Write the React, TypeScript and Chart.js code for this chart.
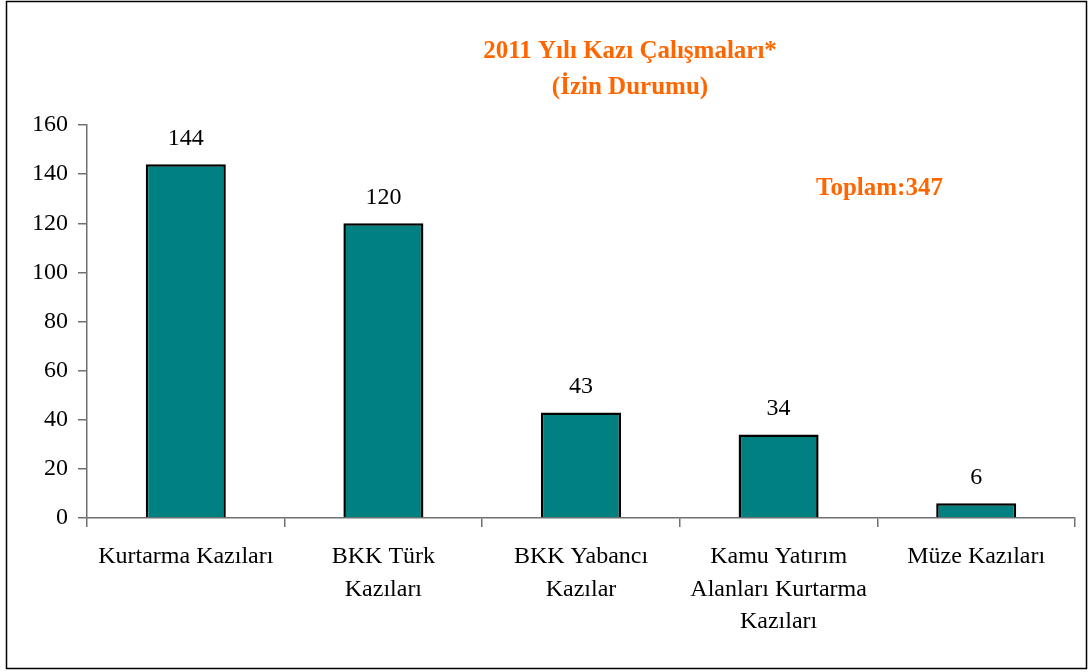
import React, { useEffect, useRef } from "react";
import { Chart, registerables } from "chart.js";

Chart.register(...registerables);

const categories: string[][] = [
  ["Kurtarma Kazıları"],
  ["BKK Türk", "Kazıları"],
  ["BKK Yabancı", "Kazılar"],
  ["Kamu Yatırım", "Alanları Kurtarma", "Kazıları"],
  ["Müze Kazıları"],
];
const values: number[] = [144, 120, 43, 34, 6];
const titleLines: string[] = ["2011 Yılı Kazı Çalışmaları*", "(İzin Durumu)"];
const totalLabel = "Toplam:347";

const FONT = "'Liberation Serif', 'Times New Roman', serif";
const ORANGE = "#FF6600";

const decorPlugin = {
  id: "decor",
  afterDraw(chart: any) {
    const ctx = chart.ctx as CanvasRenderingContext2D;
    ctx.save();
    // outer frame
    ctx.strokeStyle = "#000";
    ctx.lineWidth = 1.5;
    ctx.strokeRect(6.5, 1.5, 1080, 667);
    // title
    ctx.fillStyle = ORANGE;
    ctx.font = `bold 25px ${FONT}`;
    ctx.textAlign = "center";
    ctx.textBaseline = "middle";
    ctx.fillText(titleLines[0], 630, 52);
    ctx.fillText(titleLines[1], 630, 88);
    // total
    ctx.textAlign = "left";
    ctx.fillText(totalLabel, 816, 189);
    // data labels
    ctx.fillStyle = "#000";
    ctx.font = `24px ${FONT}`;
    ctx.textAlign = "center";
    const meta = chart.getDatasetMeta(0);
    meta.data.forEach((el: any, i: number) => {
      ctx.fillText(String(values[i]), el.x, el.y - 26);
    });
    ctx.restore();
  },
};

export default function App() {
  const ref = useRef<HTMLCanvasElement | null>(null);
  useEffect(() => {
    document.body.style.margin = "0";
    if (!ref.current) return;
    const chart = new Chart(ref.current, {
      type: "bar",
      data: {
        labels: categories,
        datasets: [
          {
            data: values,
            backgroundColor: "#008080",
            borderColor: "#000000",
            borderWidth: 2.5,
            barPercentage: 0.405,
            categoryPercentage: 1,
          },
        ],
      },
      options: {
        responsive: false,
        animation: false,
        devicePixelRatio: 1,
        layout: { padding: { left: 0, right: 14, top: 125, bottom: 0 } },
        plugins: {
          legend: { display: false },
          title: { display: false },
          tooltip: { enabled: false },
        },
        scales: {
          x: {
            afterFit: (s: any) => {
              s.height = 154;
            },
            grid: {
              display: true,
              drawOnChartArea: false,
              drawTicks: true,
              tickLength: 9,
              color: "#707070",
              lineWidth: 1.5,
              offset: true,
            },
            border: { display: true, color: "#707070", width: 1.5 },
            ticks: {
              color: "#000",
              font: { family: FONT, size: 24, lineHeight: 1.34 },
              padding: 14,
              maxRotation: 0,
              autoSkip: false,
            },
          },
          y: {
            min: 0,
            max: 160,
            afterFit: (s: any) => {
              s.width = 87;
            },
            grid: {
              display: true,
              drawOnChartArea: false,
              drawTicks: true,
              tickLength: 9,
              color: "#707070",
              lineWidth: 1.5,
            },
            border: { display: true, color: "#707070", width: 1.5 },
            ticks: {
              stepSize: 20,
              color: "#000",
              font: { family: FONT, size: 24 },
              padding: 10,
            },
          },
        },
      },
      plugins: [decorPlugin],
    });
    return () => chart.destroy();
  }, []);
  return (
    <div style={{ width: 1089, height: 672, background: "#fff" }}>
      <canvas ref={ref} width={1089} height={672} style={{ display: "block" }} />
    </div>
  );
}
